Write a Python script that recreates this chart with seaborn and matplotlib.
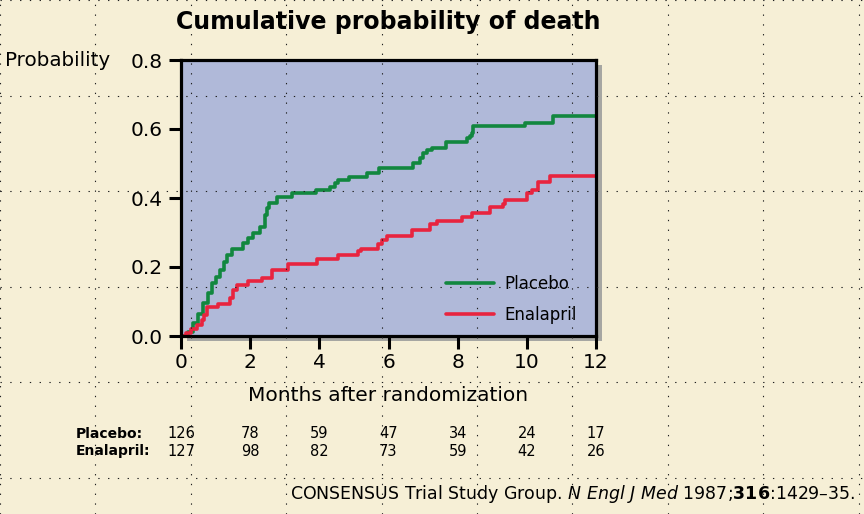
import numpy as np
import matplotlib
matplotlib.use("Agg")
import matplotlib.pyplot as plt
import matplotlib.transforms as mtransforms
import seaborn as sns

# step data (time of jump, cumulative probability after it)
placebo_months = [0, 0.2, 0.35, 0.5, 0.64, 0.78, 0.9, 1.02, 1.13, 1.25, 1.33, 1.47, 1.79,
                  1.94, 2.08, 2.28, 2.43, 2.5, 2.55, 2.78, 3.2, 3.9, 4.31, 4.45, 4.54,
                  4.85, 5.38, 5.72, 6.7, 6.9, 7.0, 7.1, 7.26, 7.66, 8.28, 8.36, 8.41,
                  8.45, 9.95, 10.76, 12]
placebo_prob = [0, 0.013, 0.038, 0.065, 0.096, 0.125, 0.154, 0.17, 0.19, 0.215, 0.235,
                0.252, 0.27, 0.284, 0.30, 0.316, 0.35, 0.37, 0.385, 0.403, 0.414, 0.423,
                0.432, 0.443, 0.452, 0.461, 0.472, 0.487, 0.501, 0.516, 0.530, 0.539,
                0.545, 0.562, 0.574, 0.58, 0.588, 0.609, 0.617, 0.638, 0.638]

enalapril_months = [0, 0.15, 0.3, 0.45, 0.6, 0.66, 0.76, 1.07, 1.42, 1.5, 1.62, 1.94,
                    2.34, 2.63, 3.09, 3.93, 4.54, 5.12, 5.2, 5.7, 5.81, 5.96, 6.68, 7.2,
                    7.4, 8.13, 8.41, 8.94, 9.3, 9.37, 10.0, 10.15, 10.32, 10.67, 12]
enalapril_prob = [0, 0.008, 0.02, 0.032, 0.045, 0.062, 0.085, 0.093, 0.11, 0.133, 0.148,
                  0.16, 0.168, 0.19, 0.21, 0.223, 0.235, 0.246, 0.252, 0.267, 0.278,
                  0.29, 0.307, 0.325, 0.333, 0.345, 0.357, 0.374, 0.383, 0.394, 0.415,
                  0.423, 0.446, 0.464, 0.464]

# numbers at risk
risk_months = [0, 2, 4, 6, 8, 10, 12]
placebo_risk = [126, 78, 59, 47, 34, 24, 17]
enalapril_risk = [127, 98, 82, 73, 59, 42, 26]

x_ticks = [0, 2, 4, 6, 8, 10, 12]
y_ticks = [0.0, 0.2, 0.4, 0.6, 0.8]

bg_color = "#f6efd6"
face_color = "#b0b9d9"
green = "#12873f"
red = "#e8243f"

sns.set_style("ticks")
plt.rcParams["font.family"] = ["DejaVu Sans"]
plt.rcParams["mathtext.fontset"] = "dejavusans"
plt.rcParams["text.color"] = "black"
plt.rcParams["axes.labelcolor"] = "black"
plt.rcParams["xtick.color"] = "black"
plt.rcParams["ytick.color"] = "black"

W, H = 864, 514
fig = plt.figure(figsize=(W / 100, H / 100), dpi=100, facecolor=bg_color)

ax_rect = [181 / W, 1 - 336 / H, 415 / W, 276 / H]

# drop shadow behind the plot panel
shadow = fig.add_axes([ax_rect[0] + 6 / W, ax_rect[1] - 5 / H, ax_rect[2], ax_rect[3]], zorder=0)
shadow.set_facecolor("#a6a6a2")
shadow.set_xticks([])
shadow.set_yticks([])
for s in shadow.spines.values():
    s.set_visible(False)

ax = fig.add_axes(ax_rect, zorder=1)
ax.set_facecolor(face_color)

sns.lineplot(x=placebo_months, y=placebo_prob, drawstyle="steps-post", color=green,
             linewidth=2.6, label="Placebo", ax=ax, estimator=None, sort=False)
sns.lineplot(x=enalapril_months, y=enalapril_prob, drawstyle="steps-post", color=red,
             linewidth=2.6, label="Enalapril", ax=ax, estimator=None, sort=False)

ax.set_xlim(0, 12)
ax.set_ylim(0, 0.8)
ax.set_xticks(x_ticks)
ax.set_yticks(y_ticks)
ax.set_yticklabels([f"{v:.1f}" for v in y_ticks])
for s in ax.spines.values():
    s.set_linewidth(2.3)
    s.set_color("black")
ax.tick_params(axis="both", direction="out", length=9, width=2.2, labelsize=14.5,
               color="black", labelcolor="black")
ax.tick_params(axis="y", pad=4)
ax.tick_params(axis="x", pad=3)
ax.set_xlabel("Months after randomization", fontsize=14.5, labelpad=10)
ax.set_ylabel("")
ax.set_title("Cumulative probability of death", fontsize=17, fontweight="bold", pad=22)

ax.legend(frameon=False, loc="lower right", bbox_to_anchor=(0.99, -0.01), fontsize=12,
          handlelength=2.9, handletextpad=0.6, labelspacing=0.75)

# "Probability" label on the level of the top tick
tr = mtransforms.blended_transform_factory(fig.transFigure, ax.transData)
ax.text(5 / W, 0.8, "Probability", transform=tr, fontsize=14.3, ha="left", va="center")

# numbers at risk table
tr2 = mtransforms.blended_transform_factory(ax.transData, fig.transFigure)
fig.text(76 / W, 1 - 434 / H, "Placebo:", fontsize=10, fontweight="bold", va="center")
fig.text(76 / W, 1 - 451 / H, "Enalapril:", fontsize=10, fontweight="bold", va="center")
for m, p, e in zip(risk_months, placebo_risk, enalapril_risk):
    ax.text(m, 1 - 434 / H, str(p), transform=tr2, fontsize=10.5, ha="center", va="center",
            clip_on=False)
    ax.text(m, 1 - 451 / H, str(e), transform=tr2, fontsize=10.5, ha="center", va="center",
            clip_on=False)

fig.text(855 / W, 1 - 494 / H,
         r"CONSENSUS Trial Study Group. $\mathit{N\ Engl\ J\ Med}$ 1987;$\mathbf{316}$:1429–35.",
         fontsize=12.5, ha="right", va="center")

# dotted slide grid over the whole picture
grid = fig.add_axes([0, 0, 1, 1], zorder=5)
grid.patch.set_alpha(0)
grid.set_xlim(0, W)
grid.set_ylim(H, 0)
grid.set_xticks(np.arange(0, W, 95.4))
grid.set_yticks(np.arange(0, H, 95.5))
grid.grid(True, color="#202020", linewidth=0.8, linestyle=(0, (1.2, 7.6)))
grid.tick_params(length=0, labelbottom=False, labelleft=False)
for s in grid.spines.values():
    s.set_visible(False)

fig.savefig("out.png", dpi=100, facecolor=bg_color)
